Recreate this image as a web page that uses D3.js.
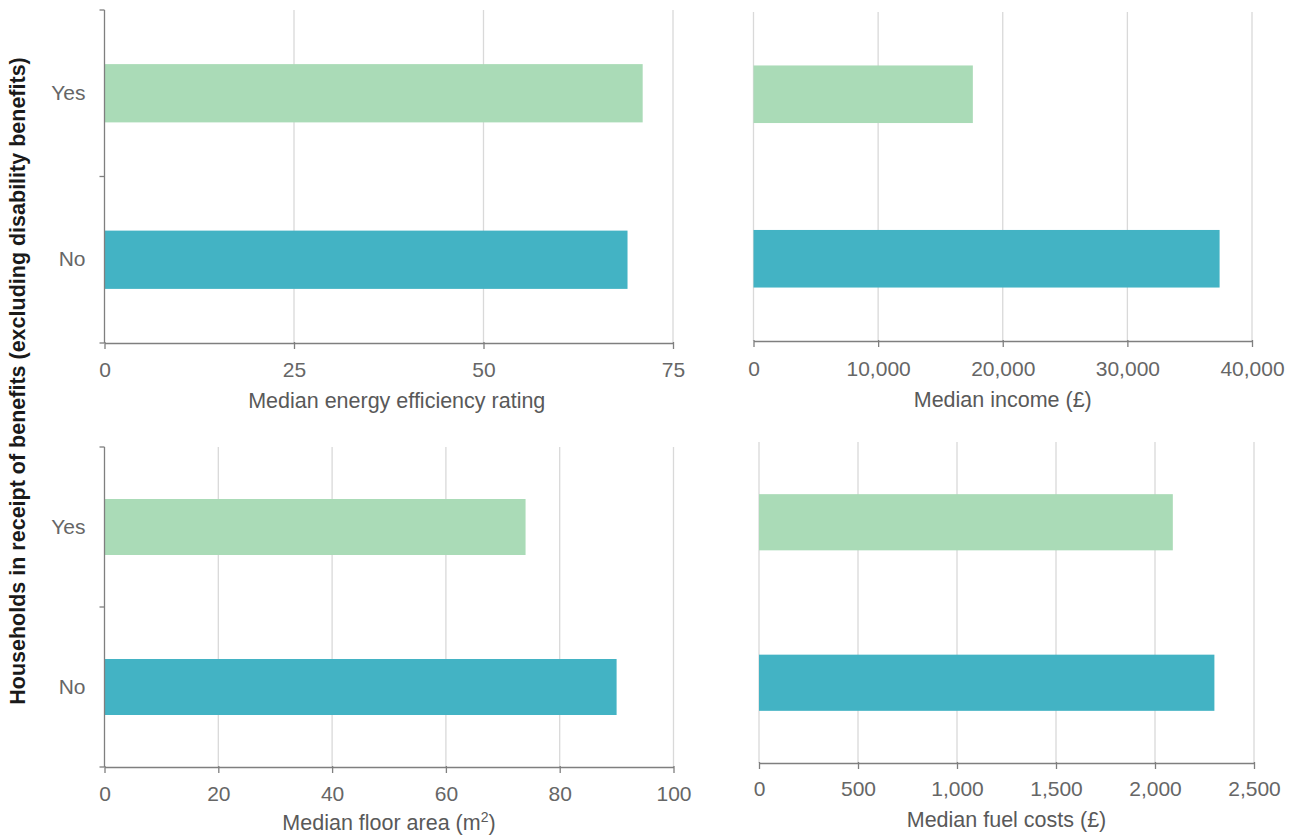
<!DOCTYPE html>
<html>
<head>
<meta charset="utf-8">
<script src="https://cdn.jsdelivr.net/npm/d3@7"></script>
<style>
  html, body { margin: 0; padding: 0; background: #ffffff; }
  svg { display: block; font-family: "Liberation Sans", Arial, sans-serif; }
</style>
</head>
<body>
<svg id="chart" width="1300" height="839"></svg>
<script>
// Benefit receipt groups (top to bottom in each panel)
const groups = ["Yes", "No"];

// Median values per group
const energyRating = [71, 69];
const incomeGBP = [17600, 37400];
const floorArea = [74, 90];
const fuelCostsGBP = [2090, 2300];

// Axis ticks and titles
const energyTicks = [0, 25, 50, 75];
const incomeTicks = [0, 10000, 20000, 30000, 40000];
const floorTicks = [0, 20, 40, 60, 80, 100];
const fuelTicks = [0, 500, 1000, 1500, 2000, 2500];

const yTitle = "Households in receipt of benefits (excluding disability benefits)";

const colorYes = "#aadbb7";
const colorNo = "#43b3c4";

const svg = d3.select("#chart");
const fmt = d3.format(",");

// Panel layout: x range, y range, whether the category axis is shown
const panels = [
  { values: energyRating, ticks: energyTicks, max: 75, title: "Median energy efficiency rating",
    x0: 104.5, x1: 673, y0: 10, y1: 343, catAxis: true, titleDx: 8, labelDy: 34, titleDy: 65 },
  { values: incomeGBP, ticks: incomeTicks, max: 40000, title: "Median income (£)",
    x0: 753.5, x1: 1252, y0: 12, y1: 341, catAxis: false, titleDx: 0, labelDy: 35, titleDy: 66 },
  { values: floorArea, ticks: floorTicks, max: 100, title: "Median floor area (m", sup: "2",
    x0: 104.5, x1: 673.5, y0: 447, y1: 767, catAxis: true, titleDx: 0, labelDy: 34, titleDy: 63 },
  { values: fuelCostsGBP, ticks: fuelTicks, max: 2500, title: "Median fuel costs (£)",
    x0: 759, x1: 1254, y0: 442, y1: 763, catAxis: false, titleDx: 0, labelDy: 33, titleDy: 64 }
];

panels.forEach(p => {
  const x = d3.scaleLinear().domain([0, p.max]).range([p.x0, p.x1]);
  const y = d3.scaleBand().domain(groups).range([p.y0, p.y1])
    .paddingInner(0.65).paddingOuter(0.325);

  const g = svg.append("g");

  // vertical gridlines
  g.selectAll("line.grid")
    .data(p.ticks.filter(t => p.catAxis ? t > 0 : true))
    .join("line")
    .attr("class", "grid")
    .attr("x1", d => x(d)).attr("x2", d => x(d))
    .attr("y1", p.y0).attr("y2", p.y1)
    .attr("stroke", "#d9d9d9").attr("stroke-width", 1.3);

  // bars
  g.selectAll("rect.bar")
    .data(groups.map((k, i) => ({ k, v: p.values[i] })))
    .join("rect")
    .attr("class", "bar")
    .attr("x", x(0))
    .attr("y", d => y(d.k))
    .attr("width", d => x(d.v) - x(0))
    .attr("height", y.bandwidth())
    .attr("fill", d => d.k === "Yes" ? colorYes : colorNo);

  // value axis
  const xAxis = d3.axisBottom(x).tickValues(p.ticks).tickFormat(fmt)
    .tickSizeInner(6).tickSizeOuter(0).tickPadding(p.labelDy - 21);
  const xa = g.append("g").attr("transform", `translate(0,${p.y1})`).call(xAxis);
  xa.select(".domain").attr("stroke", "#7f7f7f").attr("stroke-width", 1.3);
  xa.selectAll(".tick line").attr("stroke", "#7f7f7f").attr("stroke-width", 1.3).attr("y1", -1);
  xa.selectAll(".tick text").attr("fill", "#666").attr("font-size", 21)
    .attr("font-family", "'Liberation Sans', Arial, sans-serif");

  // value axis title
  const t = g.append("text")
    .attr("x", (p.x0 + p.x1) / 2 + p.titleDx)
    .attr("y", p.y1 + p.titleDy)
    .attr("text-anchor", "middle")
    .attr("fill", "#595959")
    .attr("font-size", 21.5)
    .text(p.title);
  if (p.sup) {
    t.append("tspan").attr("font-size", 14).attr("dy", -8).text(p.sup);
    t.append("tspan").attr("dy", 8).text(")");
  }

  // category axis: line, boundary ticks, centred labels
  if (p.catAxis) {
    const ca = g.append("g").attr("transform", `translate(${p.x0},0)`);
    ca.append("line").attr("x1", 0).attr("x2", 0).attr("y1", p.y0).attr("y2", p.y1)
      .attr("stroke", "#7f7f7f").attr("stroke-width", 1.3);
    const bounds = [p.y0, (p.y0 + p.y1) / 2, p.y1];
    ca.selectAll("line.btick").data(bounds).join("line")
      .attr("class", "btick")
      .attr("x1", -5).attr("x2", 0).attr("y1", d => d).attr("y2", d => d)
      .attr("stroke", "#7f7f7f").attr("stroke-width", 1.3);
    const yAxis = d3.axisLeft(y).tickSize(0).tickPadding(19);
    const ya = ca.append("g").call(yAxis);
    ya.select(".domain").remove();
    ya.selectAll(".tick text").attr("fill", "#666").attr("font-size", 21)
      .attr("font-family", "'Liberation Sans', Arial, sans-serif");
  }
});

// shared category axis title
svg.append("text")
  .attr("transform", "translate(25,381) rotate(-90)")
  .attr("text-anchor", "middle")
  .attr("font-weight", "bold")
  .attr("font-size", 21.5)
  .attr("fill", "#1a1a1a")
  .text(yTitle);
</script>
</body>
</html>
